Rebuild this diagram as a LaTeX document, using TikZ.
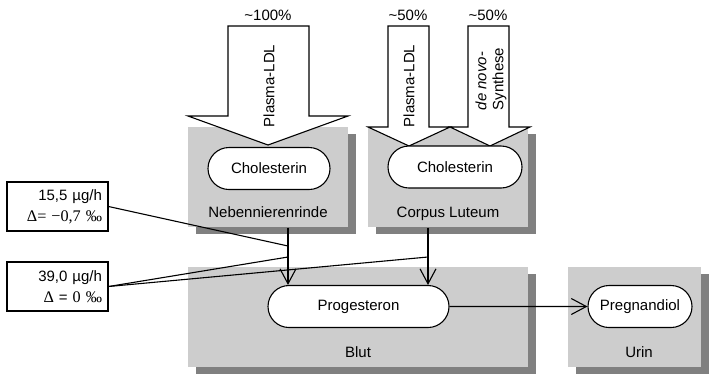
\documentclass[tikz,border=0pt]{standalone}
\usepackage{fontspec}
\setmainfont{Liberation Sans}
\newfontfamily\serif[Scale=1.08]{Liberation Serif}
\usetikzlibrary{shapes.misc,shadows,arrows.meta}
\definecolor{boxgray}{HTML}{CDCDCD}
\definecolor{schatten}{HTML}{808080}
\tikzset{
  bereich/.style={fill=boxgray, draw=none, inner sep=0pt,
    general shadow={fill=schatten, shadow xshift=8pt, shadow yshift=-7pt}},
  stoff/.style={draw, fill=white, rounded rectangle, inner sep=0pt, minimum height=42pt},
  wert/.style={draw, fill=white, align=right, text width=89pt, inner sep=6pt,
    minimum height=49pt, font=\fontsize{15}{21}\selectfont},
  pfeil/.style={-{Straight Barb[length=15pt,width=16pt]}},
  grosspfeil/.style={draw, fill=white, line join=miter},
  lbl/.style={anchor=base, inner sep=0pt}
}
\begin{document}
\begin{tikzpicture}[x=1pt, y=-1pt, line width=1.1pt, font=\fontsize{15}{17}\selectfont]
  \useasboundingbox (0,0) rectangle (709,373);
  \node[bereich, minimum width=160pt, minimum height=100pt] (nnr) at (268,177) {};
  \node[bereich, minimum width=160pt, minimum height=100pt] (cl) at (448,177) {};
  \node[bereich, minimum width=340pt, minimum height=100pt] (blut) at (358,317) {};
  \node[bereich, minimum width=133pt, minimum height=100pt] (urin) at (634.5,317) {};
  \node[lbl] (nnrtxt) at (268,217) {Nebennierenrinde};
  \node[lbl] (cltxt) at (448,217) {Corpus Luteum};
  \node[lbl] (bluttxt) at (358,357) {Blut};
  \node[lbl] (urintxt) at (639,357) {Urin};
  \draw[grosspfeil] (228,26) -- (309,26) -- (309,116) -- (348,116) -- (268,145)
    -- (188,116) -- (228,116) -- cycle;
  \draw[grosspfeil] (388,26) -- (429,26) -- (429,127) -- (450,127) -- (409,146)
    -- (368,127) -- (388,127) -- cycle;
  \draw[grosspfeil] (468,26) -- (509,26) -- (509,127) -- (530,127) -- (490,146)
    -- (450,127) -- (468,127) -- cycle;
  \node[lbl] (p1) at (268,20) {\textasciitilde100\%};
  \node[lbl] (p2) at (408,20) {\textasciitilde50\%};
  \node[lbl] (p3) at (488,20) {\textasciitilde50\%};
  \node[rotate=90] (ldl1) at (269,86) {Plasma-LDL};
  \node[rotate=90] (ldl2) at (409,86) {Plasma-LDL};
  \node[rotate=90, align=left] (syn) at (491,79) {\textit{de novo}-\\Synthese};
  \node[stoff, minimum width=122pt] (chol1) at (269,168.5) {Cholesterin};
  \node[stoff, minimum width=134pt] (chol2) at (455,167) {Cholesterin};
  \node[stoff, minimum width=181pt] (prog) at (358.5,306.5) {Progesteron};
  \node[stoff, minimum width=104pt] (preg) at (640,306.5) {Pregnandiol};
  \node[wert] (w1) at (57.5,206.5) {15,5 µg/h\\{\serif Δ= −0,7 ‰}};
  \node[wert] (w2) at (57.5,286.5) {39,0 µg/h\\{\serif Δ} = {\serif 0 ‰}};
  \coordinate (m1) at (288,246);
  \coordinate (m2) at (288,257);
  \coordinate (m3) at (428,257);
  \draw[pfeil] ([xshift=20pt]nnr.south) -- ([xshift=20pt]nnr.south |- prog.north);
  \draw[pfeil] ([xshift=-20pt]cl.south) -- ([xshift=-20pt]cl.south |- prog.north);
  \draw[pfeil] (prog) -- (preg);
  \draw (w1.east) -- (m1);
  \draw (w2.east) -- (m2);
  \draw (w2.east) -- (m3);
\end{tikzpicture}
\end{document}
